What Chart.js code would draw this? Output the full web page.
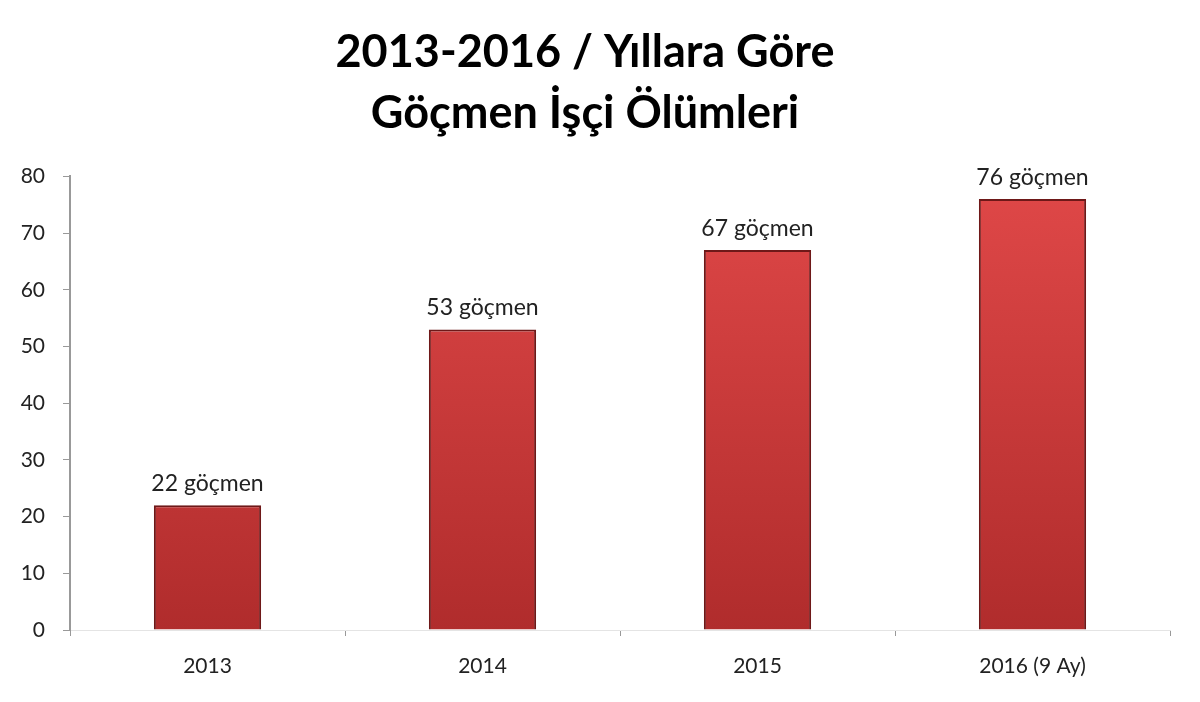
<!DOCTYPE html>
<html lang="tr">
<head>
<meta charset="UTF-8">
<title>Göçmen İşçi Ölümleri</title>
<script src="https://cdn.jsdelivr.net/npm/chart.js"></script>
<style>
  body { margin: 0; background: #fff; }
</style>
</head>
<body>
<canvas id="chart" width="1200" height="702"></canvas>
<script>
    const years = ['2013', '2014', '2015', '2016 (9 Ay)'];
    const deaths = [22, 53, 67, 76];
    const yTicks = [0, 10, 20, 30, 40, 50, 60, 70, 80];
    const titleLines = ['2013-2016 / Yıllara Göre', 'Göçmen İşçi Ölümleri'];
    const labelSuffix = ' göçmen';

    // writes "NN göçmen" above each bar
    const barLabels = {
        id: 'barLabels',
        afterDatasetsDraw(chart) {
            const ctx = chart.ctx;
            const meta = chart.getDatasetMeta(0);
            ctx.save();
            ctx.font = '23px Lato';
            ctx.fillStyle = '#222';
            ctx.textAlign = 'center';
            ctx.textBaseline = 'bottom';
            meta.data.forEach((bar, i) => {
                ctx.fillText(deaths[i] + labelSuffix, bar.x, bar.y - 10);
            });
            ctx.restore();
        }
    };

    function barFill(context) {
        const area = context.chart.chartArea;
        if (!area) return '#d03c3c';
        const g = context.chart.ctx.createLinearGradient(0, area.top, 0, area.bottom);
        g.addColorStop(0, '#e04848');
        g.addColorStop(1, '#b02c2c');
        return g;
    }

    new Chart(document.getElementById('chart'), {
        type: 'bar',
        data: {
            labels: years,
            datasets: [{
                data: deaths,
                backgroundColor: barFill,
                borderColor: '#6e1818',
                borderWidth: 2,
                barPercentage: 0.39,
                categoryPercentage: 1
            }]
        },
        options: {
            responsive: false,
            animation: false,
            layout: { padding: { left: 0, right: 30, top: 0, bottom: 0 } },
            plugins: {
                legend: { display: false },
                tooltip: { enabled: false },
                title: {
                    display: true,
                    text: titleLines,
                    color: '#000',
                    font: { family: 'Lato', size: 45, weight: 'bold', lineHeight: 1.36 },
                    padding: { top: 22, bottom: 32 }
                }
            },
            scales: {
                x: {
                    afterFit: s => { s.height = 72; },
                    border: { color: '#e4e4e4', width: 1 },
                    grid: { offset: true, drawOnChartArea: false, tickLength: 6, color: '#999' },
                    ticks: { color: '#222', font: { family: 'Lato', size: 21 }, padding: 18 }
                },
                y: {
                    min: 0,
                    max: 80,
                    afterFit: s => { s.width = 70; },
                    afterBuildTicks: s => { s.ticks = yTicks.map(v => ({ value: v })); },
                    border: { color: '#999', width: 2 },
                    grid: { drawOnChartArea: false, tickLength: 7, color: '#999' },
                    ticks: { color: '#222', font: { family: 'Lato', size: 21 }, padding: 18 }
                }
            }
        },
        plugins: [barLabels]
    });
</script>
</body>
</html>
